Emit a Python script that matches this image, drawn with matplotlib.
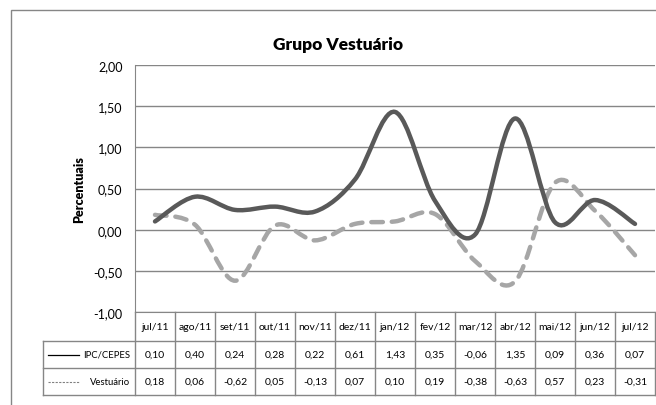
import numpy as np
import matplotlib.pyplot as plt
from matplotlib.path import Path
from matplotlib.patches import PathPatch, Rectangle
import matplotlib.transforms as mtransforms

plt.rcParams['font.family'] = ['Lato', 'DejaVu Sans']

meses = ['jul/11', 'ago/11', 'set/11', 'out/11', 'nov/11', 'dez/11', 'jan/12',
         'fev/12', 'mar/12', 'abr/12', 'mai/12', 'jun/12', 'jul/12']
ipc = [0.10, 0.40, 0.24, 0.28, 0.22, 0.61, 1.43, 0.35, -0.06, 1.35, 0.09, 0.36, 0.07]
vestuario = [0.18, 0.06, -0.62, 0.05, -0.13, 0.07, 0.10, 0.19, -0.38, -0.63, 0.57, 0.23, -0.31]
series_names = ['IPC/CEPES', 'Vestuário']


def smooth_path(x, y):
    # excel-like smoothed line (catmull-rom as cubic bezier)
    pts = np.column_stack([x, y]).astype(float)
    n = len(pts)
    verts = [pts[0]]
    codes = [Path.MOVETO]
    for i in range(n - 1):
        p0 = pts[max(i - 1, 0)]
        p1 = pts[i]
        p2 = pts[i + 1]
        p3 = pts[min(i + 2, n - 1)]
        verts += [p1 + (p2 - p0) / 6, p2 - (p3 - p1) / 6, p2]
        codes += [Path.CURVE4] * 3
    return Path(verts, codes)


def fmt(v):
    return f"{v:.2f}".replace('.', ',')


W, H = 656, 406
fig = plt.figure(figsize=(W / 100, H / 100), dpi=100)
ax = fig.add_axes([135 / W, 1 - 313 / H, 520 / W, 247 / H])

grid_c = '#868686'
solid_c = '#595959'
dash_c = '#a6a6a6'

x = np.arange(len(meses))
ax.add_patch(PathPatch(smooth_path(x, vestuario), fill=False, edgecolor=dash_c, lw=3.2,
                       linestyle=(0, (2.6, 2.0)), capstyle='round', zorder=3))
ax.add_patch(PathPatch(smooth_path(x, ipc), fill=False, edgecolor=solid_c, lw=3.2,
                       capstyle='round', zorder=4))

ax.set_xlim(-0.5, len(meses) - 0.5)
ax.set_ylim(-1, 2)
yt = np.arange(-1, 2.01, 0.5)
ax.set_yticks(yt)
ax.set_yticklabels([fmt(v) for v in yt], fontsize=9)
ax.tick_params(axis='y', length=0, pad=9)
ax.set_xticks([])
ax.grid(axis='y', color=grid_c, lw=1)
for s in ['top', 'right']:
    ax.spines[s].set_visible(False)
ax.spines['left'].set_color(grid_c)
ax.spines['bottom'].set_color(grid_c)
ax.set_ylabel('Percentuais', fontsize=9, fontweight='heavy', labelpad=6)

fig.text(338 / W, 1 - 45 / H, 'Grupo Vestuário', fontsize=12.5, fontweight='heavy',
         ha='center', va='center')

# data table under the axis
tr = mtransforms.blended_transform_factory(ax.transData, ax.transAxes)
ph = 247.0
r1, r2, r3 = -29 / ph, -56 / ph, -83 / ph
xl = -2.8
xr = len(meses) - 0.5
kw = dict(transform=tr, clip_on=False, color=grid_c, lw=1)
ax.plot([xl, xr], [r1, r1], **kw)
ax.plot([xl, xr], [r2, r2], **kw)
ax.plot([xl, xr], [r3, r3], **kw)
ax.plot([xl, xl], [r1, r3], **kw)
for k in range(len(meses) + 1):
    ax.plot([k - 0.5, k - 0.5], [0, r3], **kw)

fs = 7.5
for i, m in enumerate(meses):
    ax.text(i, (0 + r1) / 2, m, transform=tr, ha='center', va='center', fontsize=fs)
    ax.text(i, (r1 + r2) / 2, fmt(ipc[i]), transform=tr, ha='center', va='center', fontsize=fs)
    ax.text(i, (r2 + r3) / 2, fmt(vestuario[i]), transform=tr, ha='center', va='center', fontsize=fs)

ax.plot([-2.68, -1.9], [(r1 + r2) / 2] * 2, transform=tr, clip_on=False, color='black', lw=0.9)
ax.plot([-2.68, -1.9], [(r2 + r3) / 2] * 2, transform=tr, clip_on=False, color='#808080',
        lw=0.8, linestyle=(0, (2, 1.2)))
ax.text(-0.63, (r1 + r2) / 2, series_names[0], transform=tr, ha='right', va='center', fontsize=6.8)
ax.text(-0.63, (r2 + r3) / 2, series_names[1], transform=tr, ha='right', va='center', fontsize=6.8)

# chart border
fig.patches.append(Rectangle((11 / W, -0.1), 2, 1 - 11 / H + 0.1, transform=fig.transFigure,
                             fill=False, edgecolor=grid_c, lw=1))

fig.savefig('out.png', dpi=100)
